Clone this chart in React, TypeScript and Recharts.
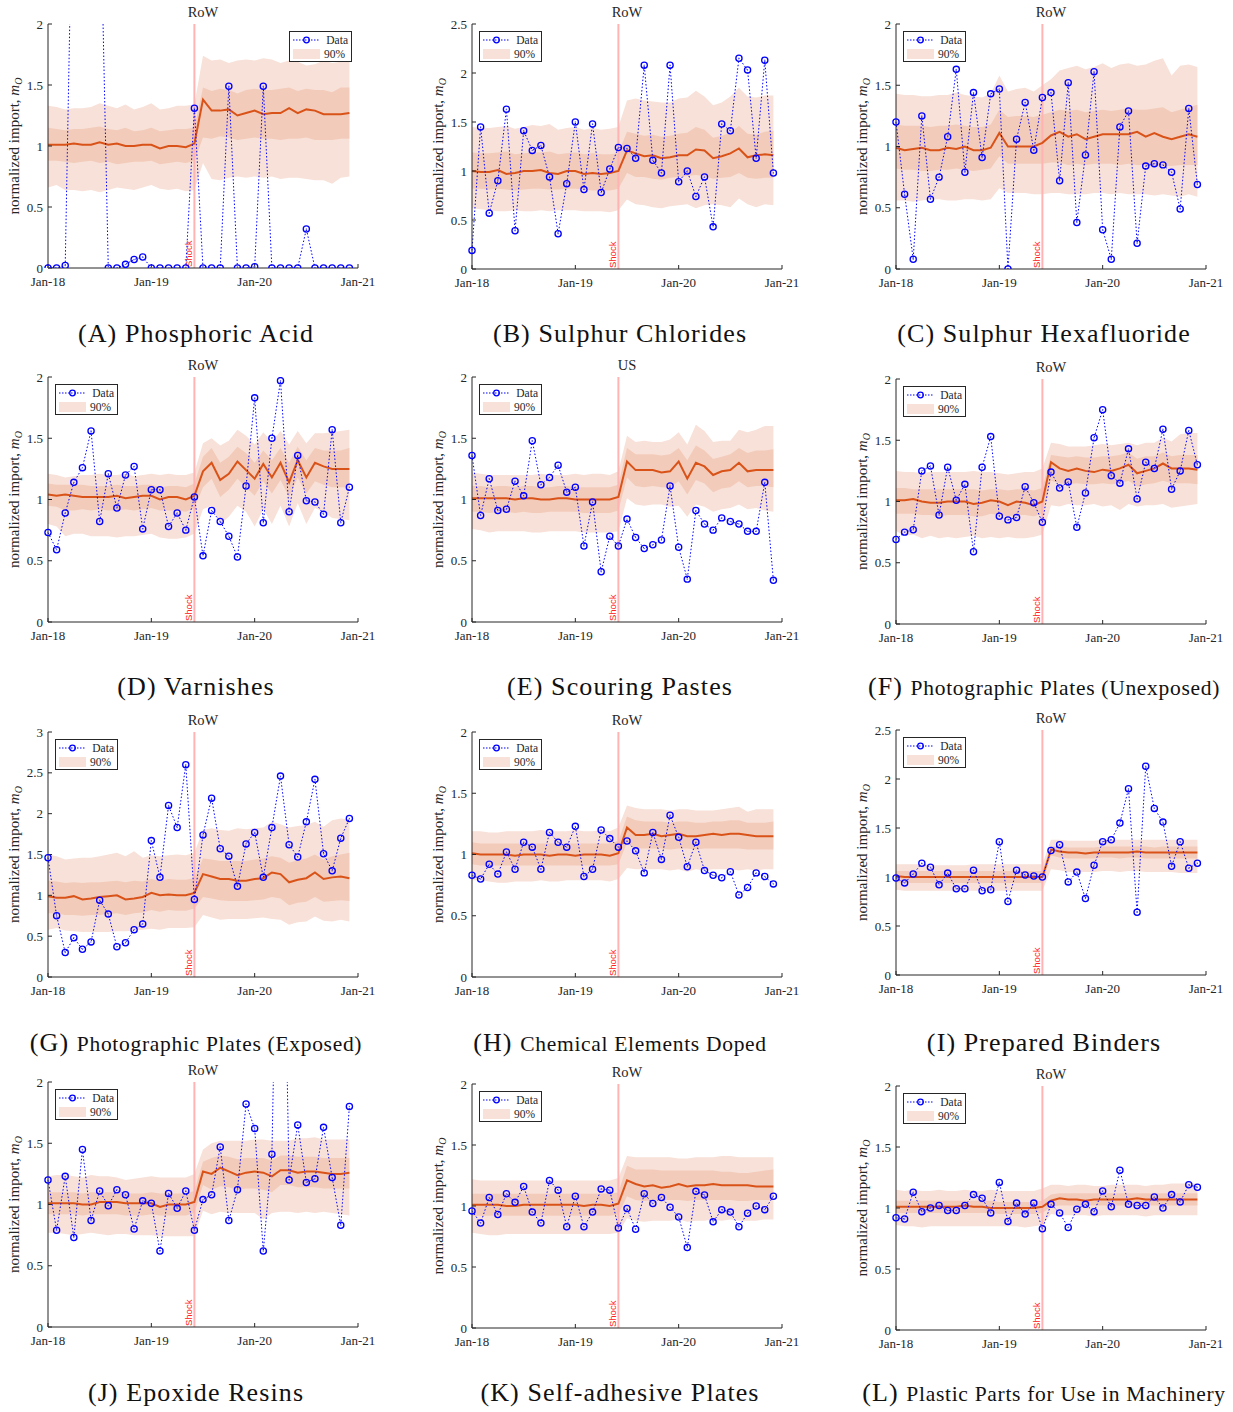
import React from 'react'
import { ComposedChart, Area, Line, XAxis, YAxis, ReferenceLine, Legend } from 'recharts'

const SERIF = '"Liberation Serif", "DejaVu Serif", serif'
const SANS = '"Liberation Sans", Arial, sans-serif'
const INK = '#262626'
const OUTER = '#F8E1D8'
const INNER = '#F2CBBA'
const MED = '#D95319'
const BLUE = '#0000FF'

// month index 0 = Jan-18 ... 35 = Dec-20
const months = Array.from({ length: 36 }, (_, i) => i)
const xTicks = [0, 12, 24, 36]
const xTickLabels = ['Jan-18', 'Jan-19', 'Jan-20', 'Jan-21']
const SHOCK = 17
const ticks2 = [0, 0.5, 1, 1.5, 2]
const ticks25 = [0, 0.5, 1, 1.5, 2, 2.5]
const ticks3 = [0, 0.5, 1, 1.5, 2, 2.5, 3]

// (A) Phosphoric Acid
const aVal = [0, 0, 0.02, 3.8, 4.5, 3.5, 3.3, 0, 0, 0.03, 0.07, 0.09, 0, 0, 0, 0, 0, 1.31, 0, 0, 0, 1.49, 0, 0, 0.01, 1.49, 0, 0, 0, 0, 0.32, 0, 0, 0, 0, 0]
const aMed = [1.01, 1.01, 1.01, 1.02, 1.01, 1.01, 1.03, 1.01, 1.02, 1.0, 1.0, 1.01, 1.01, 0.98, 1.0, 1.0, 0.99, 1.02, 1.38, 1.29, 1.29, 1.3, 1.25, 1.27, 1.29, 1.26, 1.27, 1.27, 1.31, 1.27, 1.3, 1.29, 1.26, 1.26, 1.26, 1.27]
const aHi90 = [1.33, 1.32, 1.3, 1.31, 1.31, 1.32, 1.35, 1.33, 1.31, 1.34, 1.3, 1.32, 1.35, 1.3, 1.31, 1.33, 1.33, 1.34, 1.74, 1.7, 1.71, 1.68, 1.7, 1.71, 1.7, 1.72, 1.71, 1.68, 1.7, 1.69, 1.66, 1.67, 1.7, 1.68, 1.69, 1.7]
const aLo90 = [0.66, 0.68, 0.64, 0.64, 0.63, 0.64, 0.62, 0.64, 0.66, 0.65, 0.64, 0.66, 0.68, 0.65, 0.64, 0.65, 0.63, 0.64, 0.86, 0.73, 0.72, 0.74, 0.75, 0.74, 0.75, 0.74, 0.75, 0.73, 0.74, 0.74, 0.73, 0.72, 0.72, 0.69, 0.74, 0.75]
const aHi50 = [1.15, 1.14, 1.13, 1.14, 1.14, 1.15, 1.16, 1.14, 1.13, 1.15, 1.12, 1.13, 1.15, 1.12, 1.13, 1.14, 1.14, 1.15, 1.48, 1.45, 1.47, 1.46, 1.43, 1.46, 1.47, 1.46, 1.46, 1.47, 1.48, 1.45, 1.47, 1.46, 1.46, 1.44, 1.48, 1.48]
const aLo50 = [0.88, 0.88, 0.87, 0.86, 0.87, 0.88, 0.86, 0.87, 0.85, 0.86, 0.87, 0.87, 0.88, 0.85, 0.86, 0.87, 0.86, 0.88, 1.07, 1.06, 1.08, 1.07, 1.05, 1.06, 1.07, 1.06, 1.06, 1.05, 1.06, 1.06, 1.07, 1.05, 1.05, 1.05, 1.06, 1.06]

// (B) Sulphur Chlorides
const bVal = [0.19, 1.45, 0.57, 0.9, 1.63, 0.39, 1.41, 1.21, 1.26, 0.94, 0.36, 0.87, 1.5, 0.81, 1.48, 0.78, 1.02, 1.24, 1.23, 1.13, 2.08, 1.11, 0.98, 2.08, 0.89, 1.0, 0.74, 0.94, 0.43, 1.48, 1.41, 2.15, 2.03, 1.13, 2.13, 0.98]
const bMed = [1.0, 0.99, 0.99, 1.01, 0.97, 0.98, 1.0, 1.0, 1.01, 0.98, 0.97, 1.0, 1.0, 0.97, 0.98, 0.97, 0.98, 1.0, 1.21, 1.18, 1.15, 1.16, 1.13, 1.14, 1.16, 1.16, 1.22, 1.21, 1.13, 1.15, 1.18, 1.23, 1.14, 1.16, 1.17, 1.16]
const bHi90 = [1.45, 1.44, 1.44, 1.45, 1.46, 1.43, 1.45, 1.47, 1.46, 1.48, 1.42, 1.44, 1.45, 1.42, 1.44, 1.42, 1.43, 1.45, 1.72, 1.74, 1.72, 1.71, 1.7, 1.7, 1.74, 1.75, 1.82, 1.76, 1.67, 1.7, 1.76, 1.85, 1.76, 1.75, 1.77, 1.77]
const bLo90 = [0.62, 0.61, 0.6, 0.59, 0.59, 0.6, 0.59, 0.59, 0.6, 0.59, 0.6, 0.6, 0.6, 0.59, 0.59, 0.59, 0.58, 0.6, 0.71, 0.66, 0.65, 0.63, 0.62, 0.64, 0.65, 0.66, 0.62, 0.65, 0.66, 0.65, 0.63, 0.72, 0.66, 0.63, 0.66, 0.65]
const bHi50 = [1.19, 1.18, 1.18, 1.19, 1.2, 1.17, 1.18, 1.19, 1.19, 1.2, 1.17, 1.18, 1.19, 1.17, 1.18, 1.17, 1.17, 1.18, 1.4, 1.38, 1.36, 1.37, 1.35, 1.36, 1.38, 1.39, 1.45, 1.42, 1.34, 1.36, 1.39, 1.46, 1.38, 1.37, 1.4, 1.41]
const bLo50 = [0.82, 0.82, 0.81, 0.82, 0.81, 0.8, 0.81, 0.82, 0.82, 0.81, 0.81, 0.82, 0.82, 0.81, 0.8, 0.8, 0.8, 0.82, 0.98, 0.94, 0.94, 0.92, 0.91, 0.93, 0.94, 0.95, 0.96, 0.95, 0.92, 0.93, 0.94, 0.98, 0.93, 0.92, 0.93, 0.93]

// (C) Sulphur Hexafluoride
const cVal = [1.2, 0.61, 0.08, 1.25, 0.57, 0.75, 1.08, 1.63, 0.79, 1.44, 0.91, 1.43, 1.47, 0.0, 1.06, 1.36, 0.97, 1.4, 1.44, 0.72, 1.52, 0.38, 0.93, 1.61, 0.32, 0.08, 1.16, 1.29, 0.21, 0.84, 0.86, 0.85, 0.79, 0.49, 1.31, 0.69]
const cMed = [0.99, 0.97, 0.98, 0.99, 0.97, 0.97, 0.99, 0.98, 1.0, 0.97, 0.97, 0.99, 1.11, 1.0, 1.0, 1.0, 1.0, 1.03, 1.09, 1.12, 1.08, 1.1, 1.06, 1.08, 1.1, 1.1, 1.1, 1.1, 1.12, 1.08, 1.11, 1.08, 1.06, 1.08, 1.1, 1.08]
const cHi90 = [1.43, 1.42, 1.42, 1.41, 1.41, 1.42, 1.42, 1.44, 1.42, 1.41, 1.4, 1.43, 1.58, 1.45, 1.47, 1.48, 1.45, 1.5, 1.55, 1.62, 1.64, 1.66, 1.63, 1.65, 1.68, 1.64, 1.67, 1.68, 1.66, 1.67, 1.7, 1.72, 1.58, 1.66, 1.67, 1.65]
const cLo90 = [0.56, 0.56, 0.55, 0.56, 0.57, 0.57, 0.56, 0.56, 0.57, 0.57, 0.56, 0.57, 0.66, 0.62, 0.62, 0.62, 0.61, 0.61, 0.62, 0.62, 0.61, 0.61, 0.61, 0.62, 0.62, 0.61, 0.62, 0.61, 0.61, 0.61, 0.6, 0.61, 0.6, 0.59, 0.61, 0.59]
const cHi50 = [1.18, 1.17, 1.17, 1.17, 1.16, 1.17, 1.17, 1.18, 1.17, 1.16, 1.16, 1.18, 1.3, 1.24, 1.25, 1.25, 1.24, 1.26, 1.28, 1.3, 1.29, 1.3, 1.28, 1.29, 1.3, 1.29, 1.3, 1.31, 1.3, 1.3, 1.31, 1.32, 1.28, 1.3, 1.32, 1.34]
const cLo50 = [0.82, 0.81, 0.81, 0.8, 0.8, 0.81, 0.81, 0.82, 0.81, 0.8, 0.81, 0.82, 0.92, 0.86, 0.86, 0.86, 0.86, 0.86, 0.87, 0.87, 0.85, 0.86, 0.85, 0.86, 0.86, 0.86, 0.85, 0.86, 0.85, 0.85, 0.84, 0.84, 0.84, 0.85, 0.85, 0.85]

// (D) Varnishes
const dVal = [0.73, 0.59, 0.89, 1.14, 1.26, 1.56, 0.82, 1.21, 0.93, 1.2, 1.27, 0.76, 1.08, 1.08, 0.78, 0.89, 0.75, 1.02, 0.54, 0.91, 0.82, 0.7, 0.53, 1.11, 1.83, 0.81, 1.5, 1.97, 0.9, 1.36, 0.99, 0.98, 0.88, 1.57, 0.81, 1.1]
const dMed = [1.04, 1.03, 1.04, 1.03, 1.02, 1.02, 1.02, 1.02, 1.03, 1.01, 1.02, 1.03, 1.03, 1.0, 1.02, 1.02, 1.0, 1.03, 1.23, 1.3, 1.16, 1.21, 1.31, 1.24, 1.17, 1.29, 1.18, 1.3, 1.14, 1.32, 1.18, 1.3, 1.27, 1.25, 1.25, 1.25]
const dHi90 = [1.21, 1.2, 1.18, 1.19, 1.2, 1.2, 1.21, 1.2, 1.2, 1.21, 1.19, 1.2, 1.21, 1.2, 1.21, 1.2, 1.2, 1.22, 1.46, 1.5, 1.44, 1.48, 1.57, 1.52, 1.45, 1.55, 1.47, 1.56, 1.45, 1.56, 1.46, 1.54, 1.54, 1.55, 1.56, 1.57]
const dLo90 = [0.8, 0.78, 0.7, 0.72, 0.72, 0.7, 0.7, 0.7, 0.69, 0.7, 0.7, 0.71, 0.72, 0.69, 0.68, 0.68, 0.69, 0.72, 0.92, 0.95, 0.8, 0.86, 0.95, 0.9, 0.78, 0.92, 0.8, 0.95, 0.78, 0.97, 0.8, 0.93, 0.9, 0.85, 0.84, 0.83]
const dHi50 = [1.13, 1.12, 1.12, 1.12, 1.12, 1.11, 1.11, 1.11, 1.12, 1.11, 1.11, 1.12, 1.12, 1.1, 1.11, 1.11, 1.1, 1.13, 1.35, 1.42, 1.3, 1.35, 1.43, 1.38, 1.3, 1.4, 1.32, 1.42, 1.3, 1.43, 1.32, 1.42, 1.4, 1.4, 1.4, 1.42]
const dLo50 = [0.95, 0.94, 0.91, 0.91, 0.92, 0.91, 0.92, 0.91, 0.91, 0.92, 0.91, 0.92, 0.93, 0.91, 0.91, 0.91, 0.9, 0.93, 1.1, 1.17, 1.02, 1.08, 1.17, 1.1, 1.03, 1.15, 1.05, 1.16, 1.02, 1.18, 1.05, 1.15, 1.12, 1.1, 1.1, 1.1]

// (E) Scouring Pastes
const eVal = [1.36, 0.87, 1.17, 0.91, 0.92, 1.15, 1.03, 1.48, 1.12, 1.18, 1.28, 1.06, 1.1, 0.62, 0.98, 0.41, 0.7, 0.62, 0.84, 0.69, 0.6, 0.63, 0.67, 1.11, 0.61, 0.35, 0.91, 0.8, 0.75, 0.85, 0.82, 0.8, 0.74, 0.74, 1.14, 0.34]
const eMed = [1.01, 1.01, 1.01, 1.01, 1.01, 1.0, 1.01, 1.01, 1.0, 1.0, 1.01, 1.01, 1.0, 1.0, 1.0, 1.0, 1.0, 1.02, 1.31, 1.24, 1.24, 1.24, 1.22, 1.23, 1.31, 1.17, 1.3, 1.27, 1.2, 1.23, 1.24, 1.3, 1.23, 1.24, 1.24, 1.24]
const eHi90 = [1.22, 1.21, 1.2, 1.2, 1.2, 1.2, 1.2, 1.2, 1.21, 1.2, 1.2, 1.2, 1.21, 1.2, 1.21, 1.21, 1.2, 1.23, 1.52, 1.47, 1.48, 1.47, 1.47, 1.49, 1.55, 1.45, 1.61, 1.56, 1.47, 1.48, 1.48, 1.57, 1.55, 1.57, 1.6, 1.6]
const eLo90 = [0.76, 0.75, 0.73, 0.74, 0.74, 0.74, 0.74, 0.73, 0.73, 0.74, 0.74, 0.74, 0.74, 0.73, 0.73, 0.73, 0.73, 0.74, 1.01, 0.96, 0.95, 0.96, 0.96, 0.94, 0.95, 0.86, 0.96, 0.94, 0.9, 0.92, 0.93, 0.96, 0.92, 0.93, 0.91, 0.9]
const eHi50 = [1.11, 1.11, 1.1, 1.11, 1.11, 1.1, 1.11, 1.11, 1.1, 1.1, 1.11, 1.11, 1.1, 1.1, 1.1, 1.1, 1.1, 1.12, 1.42, 1.37, 1.37, 1.37, 1.36, 1.37, 1.42, 1.32, 1.44, 1.4, 1.33, 1.35, 1.37, 1.42, 1.38, 1.4, 1.4, 1.41]
const eLo50 = [0.9, 0.9, 0.89, 0.9, 0.9, 0.89, 0.9, 0.89, 0.89, 0.9, 0.9, 0.9, 0.9, 0.89, 0.89, 0.89, 0.89, 0.91, 1.18, 1.11, 1.1, 1.11, 1.1, 1.1, 1.15, 1.04, 1.16, 1.13, 1.06, 1.09, 1.1, 1.15, 1.1, 1.11, 1.11, 1.1]

// (F) Photographic Plates (Unexposed)
const fVal = [0.69, 0.75, 0.77, 1.25, 1.29, 0.89, 1.28, 1.01, 1.14, 0.59, 1.28, 1.53, 0.88, 0.85, 0.87, 1.12, 0.99, 0.83, 1.24, 1.11, 1.16, 0.79, 1.07, 1.52, 1.75, 1.21, 1.15, 1.43, 1.02, 1.32, 1.27, 1.59, 1.1, 1.25, 1.58, 1.3]
const fMed = [1.01, 1.01, 1.02, 1.0, 0.99, 0.99, 1.0, 1.0, 1.0, 0.98, 0.99, 1.01, 1.0, 0.97, 1.0, 0.99, 0.97, 1.0, 1.32, 1.27, 1.25, 1.27, 1.25, 1.24, 1.26, 1.25, 1.27, 1.3, 1.23, 1.25, 1.27, 1.31, 1.27, 1.27, 1.27, 1.26]
const fHi90 = [1.25, 1.24, 1.24, 1.23, 1.24, 1.24, 1.24, 1.24, 1.24, 1.25, 1.24, 1.24, 1.23, 1.22, 1.23, 1.24, 1.24, 1.27, 1.48, 1.47, 1.45, 1.45, 1.45, 1.46, 1.47, 1.46, 1.47, 1.48, 1.46, 1.48, 1.48, 1.52, 1.49, 1.55, 1.56, 1.56]
const fLo90 = [0.76, 0.72, 0.73, 0.7, 0.72, 0.7, 0.71, 0.7, 0.71, 0.72, 0.7, 0.71, 0.7, 0.71, 0.7, 0.7, 0.71, 0.73, 0.97, 0.96, 0.98, 0.97, 0.97, 0.98, 0.96, 0.97, 0.93, 0.98, 0.96, 0.97, 0.97, 0.98, 0.95, 0.96, 0.97, 0.98]
const fHi50 = [1.11, 1.11, 1.1, 1.1, 1.1, 1.1, 1.1, 1.1, 1.1, 1.1, 1.09, 1.1, 1.1, 1.09, 1.1, 1.1, 1.09, 1.11, 1.38, 1.37, 1.36, 1.37, 1.36, 1.36, 1.37, 1.37, 1.38, 1.4, 1.35, 1.37, 1.37, 1.4, 1.37, 1.38, 1.38, 1.38]
const fLo50 = [0.9, 0.9, 0.9, 0.89, 0.89, 0.88, 0.89, 0.89, 0.89, 0.88, 0.88, 0.9, 0.89, 0.88, 0.89, 0.89, 0.88, 0.9, 1.17, 1.15, 1.14, 1.15, 1.14, 1.14, 1.15, 1.14, 1.15, 1.17, 1.12, 1.14, 1.15, 1.17, 1.15, 1.15, 1.15, 1.14]

// (G) Photographic Plates (Exposed)
const gVal = [1.46, 0.75, 0.3, 0.48, 0.34, 0.43, 0.94, 0.77, 0.37, 0.42, 0.58, 0.65, 1.67, 1.22, 2.1, 1.83, 2.6, 0.95, 1.74, 2.19, 1.57, 1.48, 1.11, 1.63, 1.77, 1.22, 1.83, 2.46, 1.62, 1.47, 1.9, 2.42, 1.51, 1.3, 1.7, 1.94]
const gMed = [0.99, 0.97, 0.97, 0.99, 0.95, 0.96, 0.98, 0.99, 1.0, 0.95, 0.96, 0.98, 1.03, 1.0, 1.01, 1.0, 1.0, 1.03, 1.26, 1.23, 1.2, 1.2, 1.18, 1.18, 1.2, 1.21, 1.28, 1.26, 1.16, 1.19, 1.21, 1.28, 1.2, 1.22, 1.23, 1.21]
const gHi90 = [1.5, 1.48, 1.44, 1.45, 1.46, 1.46, 1.48, 1.5, 1.52, 1.48, 1.54, 1.46, 1.49, 1.48, 1.49, 1.5, 1.49, 1.52, 1.8, 1.82, 1.8, 1.79, 1.82, 1.81, 1.82, 1.83, 1.9, 1.87, 1.83, 1.85, 1.86, 1.9, 1.84, 1.92, 1.94, 1.93]
const gLo90 = [0.58, 0.6, 0.57, 0.56, 0.55, 0.55, 0.55, 0.55, 0.56, 0.56, 0.57, 0.58, 0.59, 0.58, 0.6, 0.6, 0.6, 0.61, 0.76, 0.73, 0.7, 0.71, 0.71, 0.71, 0.72, 0.73, 0.71, 0.7, 0.64, 0.67, 0.68, 0.74, 0.69, 0.68, 0.7, 0.68]
const gHi50 = [1.18, 1.17, 1.15, 1.16, 1.15, 1.16, 1.16, 1.17, 1.18, 1.16, 1.18, 1.17, 1.2, 1.18, 1.2, 1.19, 1.19, 1.21, 1.45, 1.44, 1.42, 1.42, 1.42, 1.42, 1.44, 1.45, 1.48, 1.46, 1.4, 1.43, 1.45, 1.5, 1.44, 1.48, 1.5, 1.52]
const gLo50 = [0.78, 0.78, 0.76, 0.76, 0.75, 0.76, 0.76, 0.77, 0.78, 0.76, 0.78, 0.79, 0.82, 0.8, 0.82, 0.81, 0.81, 0.84, 0.98, 0.96, 0.94, 0.93, 0.93, 0.93, 0.94, 0.95, 0.98, 0.96, 0.88, 0.91, 0.92, 0.98, 0.92, 0.93, 0.94, 0.93]

// (H) Chemical Elements Doped
const hVal = [0.83, 0.8, 0.92, 0.84, 1.02, 0.88, 1.1, 1.06, 0.88, 1.18, 1.1, 1.06, 1.23, 0.82, 0.88, 1.2, 1.13, 1.06, 1.11, 1.03, 0.85, 1.18, 0.96, 1.32, 1.14, 0.9, 1.1, 0.87, 0.83, 0.81, 0.86, 0.67, 0.73, 0.85, 0.82, 0.76]
const hMed = [1.01, 1.0, 1.0, 1.0, 1.0, 0.99, 1.0, 1.0, 1.0, 0.99, 1.0, 1.0, 0.99, 1.0, 1.0, 1.0, 0.99, 1.01, 1.22, 1.16, 1.16, 1.17, 1.15, 1.16, 1.17, 1.15, 1.15, 1.16, 1.17, 1.16, 1.17, 1.17, 1.16, 1.15, 1.15, 1.15]
const hHi90 = [1.19, 1.19, 1.18, 1.18, 1.19, 1.19, 1.19, 1.19, 1.2, 1.19, 1.19, 1.19, 1.2, 1.19, 1.19, 1.2, 1.19, 1.22, 1.4, 1.38, 1.37, 1.37, 1.37, 1.36, 1.37, 1.37, 1.36, 1.36, 1.36, 1.37, 1.38, 1.39, 1.35, 1.37, 1.37, 1.37]
const hLo90 = [0.79, 0.79, 0.78, 0.77, 0.77, 0.78, 0.78, 0.78, 0.79, 0.78, 0.78, 0.79, 0.79, 0.79, 0.79, 0.79, 0.78, 0.8, 0.89, 0.88, 0.88, 0.88, 0.88, 0.87, 0.88, 0.86, 0.88, 0.87, 0.88, 0.88, 0.88, 0.87, 0.88, 0.87, 0.88, 0.88]
const hHi50 = [1.1, 1.09, 1.09, 1.09, 1.09, 1.09, 1.09, 1.09, 1.09, 1.09, 1.09, 1.09, 1.09, 1.09, 1.09, 1.09, 1.09, 1.11, 1.31, 1.28, 1.27, 1.27, 1.27, 1.26, 1.27, 1.27, 1.26, 1.26, 1.27, 1.27, 1.28, 1.28, 1.26, 1.26, 1.26, 1.27]
const hLo50 = [0.92, 0.91, 0.91, 0.91, 0.91, 0.91, 0.91, 0.91, 0.91, 0.91, 0.91, 0.91, 0.91, 0.91, 0.91, 0.91, 0.91, 0.92, 1.1, 1.05, 1.05, 1.05, 1.05, 1.04, 1.05, 1.05, 1.04, 1.05, 1.05, 1.05, 1.05, 1.05, 1.04, 1.04, 1.04, 1.04]

// (I) Prepared Binders
const iVal = [0.99, 0.94, 1.03, 1.14, 1.1, 0.92, 1.04, 0.88, 0.88, 1.07, 0.86, 0.87, 1.36, 0.75, 1.07, 1.02, 1.01, 1.0, 1.27, 1.33, 0.95, 1.05, 0.78, 1.12, 1.36, 1.38, 1.55, 1.9, 0.64, 2.13, 1.7, 1.56, 1.11, 1.36, 1.09, 1.14]
const iMed = [1.01, 1.0, 1.0, 1.0, 1.0, 1.0, 1.0, 1.0, 1.0, 1.0, 1.0, 1.0, 1.0, 1.0, 1.0, 1.0, 1.0, 1.0, 1.28, 1.26, 1.25, 1.25, 1.24, 1.25, 1.25, 1.25, 1.25, 1.25, 1.26, 1.25, 1.25, 1.25, 1.25, 1.25, 1.25, 1.25]
const iHi90 = [1.13, 1.13, 1.13, 1.13, 1.12, 1.12, 1.12, 1.12, 1.12, 1.13, 1.13, 1.13, 1.13, 1.13, 1.13, 1.13, 1.13, 1.13, 1.38, 1.38, 1.37, 1.37, 1.37, 1.37, 1.38, 1.38, 1.38, 1.38, 1.38, 1.38, 1.38, 1.38, 1.38, 1.38, 1.38, 1.38]
const iLo90 = [0.87, 0.86, 0.86, 0.86, 0.86, 0.86, 0.86, 0.86, 0.86, 0.86, 0.86, 0.86, 0.86, 0.86, 0.86, 0.86, 0.86, 0.86, 1.08, 1.07, 1.05, 1.05, 1.05, 1.05, 1.06, 1.06, 1.05, 1.06, 1.06, 1.05, 1.05, 1.05, 1.05, 1.04, 1.04, 1.04]
const iHi50 = [1.06, 1.06, 1.06, 1.06, 1.06, 1.06, 1.06, 1.06, 1.06, 1.06, 1.06, 1.06, 1.06, 1.06, 1.06, 1.06, 1.06, 1.06, 1.31, 1.31, 1.3, 1.3, 1.3, 1.3, 1.31, 1.31, 1.31, 1.31, 1.31, 1.31, 1.3, 1.31, 1.31, 1.31, 1.31, 1.31]
const iLo50 = [0.95, 0.94, 0.94, 0.94, 0.94, 0.94, 0.94, 0.94, 0.94, 0.94, 0.94, 0.94, 0.94, 0.94, 0.94, 0.94, 0.94, 0.94, 1.22, 1.2, 1.19, 1.19, 1.19, 1.19, 1.2, 1.2, 1.19, 1.2, 1.2, 1.19, 1.19, 1.19, 1.19, 1.19, 1.19, 1.19]

// (J) Epoxide Resins
const jVal = [1.2, 0.79, 1.23, 0.73, 1.45, 0.87, 1.11, 0.99, 1.12, 1.08, 0.8, 1.03, 1.01, 0.62, 1.09, 0.97, 1.11, 0.79, 1.04, 1.08, 1.47, 0.87, 1.12, 1.82, 1.62, 0.62, 1.41, 5.0, 1.2, 1.65, 1.18, 1.21, 1.63, 1.22, 0.83, 1.8]
const jMed = [1.01, 1.01, 1.01, 1.01, 1.0, 1.0, 1.02, 1.02, 1.02, 1.01, 1.01, 1.01, 1.01, 0.98, 1.0, 1.0, 1.0, 1.02, 1.27, 1.25, 1.3, 1.27, 1.24, 1.26, 1.27, 1.26, 1.23, 1.28, 1.28, 1.26, 1.27, 1.27, 1.26, 1.25, 1.25, 1.26]
const jHi90 = [1.23, 1.24, 1.24, 1.23, 1.22, 1.24, 1.23, 1.23, 1.22, 1.2, 1.21, 1.22, 1.23, 1.22, 1.22, 1.22, 1.22, 1.25, 1.45, 1.5, 1.52, 1.52, 1.52, 1.52, 1.53, 1.53, 1.52, 1.52, 1.52, 1.54, 1.54, 1.55, 1.53, 1.53, 1.53, 1.53]
const jLo90 = [0.77, 0.77, 0.76, 0.75, 0.76, 0.77, 0.76, 0.75, 0.76, 0.76, 0.75, 0.75, 0.75, 0.74, 0.74, 0.74, 0.74, 0.74, 0.95, 0.92, 0.94, 0.93, 0.93, 0.93, 0.93, 0.88, 0.93, 0.94, 0.94, 0.93, 0.94, 0.93, 0.94, 0.93, 0.92, 0.91]
const jHi50 = [1.1, 1.1, 1.1, 1.1, 1.09, 1.1, 1.1, 1.1, 1.1, 1.09, 1.09, 1.09, 1.1, 1.09, 1.09, 1.09, 1.09, 1.11, 1.35, 1.38, 1.4, 1.39, 1.37, 1.38, 1.38, 1.38, 1.36, 1.4, 1.4, 1.39, 1.39, 1.39, 1.38, 1.38, 1.38, 1.38]
const jLo50 = [0.92, 0.92, 0.92, 0.92, 0.91, 0.92, 0.92, 0.92, 0.92, 0.91, 0.91, 0.91, 0.92, 0.91, 0.91, 0.91, 0.91, 0.93, 1.16, 1.12, 1.15, 1.14, 1.12, 1.13, 1.13, 1.12, 1.1, 1.16, 1.16, 1.14, 1.14, 1.14, 1.13, 1.13, 1.13, 1.13]

// (K) Self-adhesive Plates
const kVal = [0.96, 0.86, 1.07, 0.93, 1.1, 1.03, 1.16, 0.95, 0.86, 1.21, 1.13, 0.83, 1.08, 0.83, 0.95, 1.14, 1.13, 0.82, 0.98, 0.81, 1.1, 1.02, 1.07, 0.99, 0.91, 0.66, 1.12, 1.09, 0.87, 0.97, 0.95, 0.83, 0.94, 1.0, 0.97, 1.08]
const kMed = [1.01, 1.01, 1.01, 1.01, 1.0, 1.0, 1.01, 1.01, 1.01, 1.01, 1.01, 1.01, 1.01, 1.0, 1.01, 1.01, 1.0, 1.02, 1.21, 1.18, 1.16, 1.17, 1.15, 1.16, 1.18, 1.16, 1.17, 1.17, 1.18, 1.17, 1.17, 1.17, 1.17, 1.16, 1.16, 1.16]
const kHi90 = [1.22, 1.21, 1.21, 1.21, 1.21, 1.21, 1.21, 1.21, 1.21, 1.21, 1.21, 1.21, 1.21, 1.21, 1.21, 1.21, 1.21, 1.23, 1.41, 1.4, 1.4, 1.4, 1.4, 1.4, 1.39, 1.39, 1.4, 1.4, 1.4, 1.41, 1.41, 1.4, 1.4, 1.4, 1.4, 1.4]
const kLo90 = [0.78, 0.77, 0.76, 0.76, 0.77, 0.77, 0.77, 0.77, 0.77, 0.77, 0.77, 0.77, 0.77, 0.77, 0.77, 0.77, 0.77, 0.78, 0.9, 0.88, 0.87, 0.88, 0.88, 0.88, 0.89, 0.87, 0.88, 0.88, 0.89, 0.88, 0.89, 0.88, 0.88, 0.88, 0.89, 0.89]
const kHi50 = [1.1, 1.1, 1.1, 1.1, 1.1, 1.1, 1.1, 1.1, 1.1, 1.1, 1.1, 1.1, 1.1, 1.1, 1.1, 1.1, 1.1, 1.11, 1.33, 1.3, 1.3, 1.3, 1.29, 1.29, 1.29, 1.29, 1.29, 1.29, 1.29, 1.28, 1.28, 1.27, 1.27, 1.28, 1.29, 1.3]
const kLo50 = [0.92, 0.92, 0.92, 0.92, 0.92, 0.92, 0.92, 0.92, 0.92, 0.92, 0.92, 0.92, 0.92, 0.92, 0.92, 0.92, 0.92, 0.93, 1.08, 1.05, 1.04, 1.05, 1.05, 1.05, 1.05, 1.04, 1.05, 1.05, 1.05, 1.05, 1.05, 1.04, 1.04, 1.05, 1.05, 1.05]

// (L) Plastic Parts for Use in Machinery
const lVal = [0.92, 0.91, 1.13, 0.97, 1.0, 1.02, 0.98, 0.98, 1.02, 1.11, 1.08, 0.96, 1.21, 0.89, 1.04, 0.95, 1.04, 0.83, 1.03, 0.96, 0.84, 0.99, 1.03, 0.97, 1.14, 1.01, 1.31, 1.03, 1.02, 1.02, 1.09, 1.0, 1.11, 1.05, 1.19, 1.17]
const lMed = [1.01, 1.01, 1.01, 1.01, 1.01, 1.01, 1.01, 1.01, 1.02, 1.01, 1.01, 1.0, 1.0, 1.0, 1.0, 1.0, 1.0, 1.01, 1.06, 1.08, 1.07, 1.07, 1.06, 1.07, 1.07, 1.07, 1.07, 1.07, 1.08, 1.07, 1.07, 1.07, 1.07, 1.07, 1.07, 1.07]
const lHi90 = [1.15, 1.14, 1.15, 1.14, 1.14, 1.15, 1.14, 1.14, 1.15, 1.14, 1.14, 1.15, 1.14, 1.14, 1.14, 1.14, 1.14, 1.16, 1.19, 1.19, 1.18, 1.19, 1.19, 1.18, 1.18, 1.19, 1.19, 1.19, 1.19, 1.18, 1.19, 1.19, 1.2, 1.2, 1.2, 1.2]
const lLo90 = [0.86, 0.85, 0.85, 0.84, 0.85, 0.85, 0.85, 0.85, 0.85, 0.85, 0.85, 0.85, 0.85, 0.85, 0.85, 0.84, 0.85, 0.86, 0.95, 0.94, 0.94, 0.94, 0.94, 0.93, 0.94, 0.94, 0.94, 0.94, 0.94, 0.93, 0.94, 0.94, 0.94, 0.94, 0.94, 0.94]
const lHi50 = [1.06, 1.06, 1.06, 1.06, 1.06, 1.06, 1.06, 1.06, 1.06, 1.06, 1.06, 1.06, 1.05, 1.05, 1.05, 1.05, 1.05, 1.06, 1.11, 1.12, 1.12, 1.12, 1.12, 1.12, 1.12, 1.12, 1.12, 1.12, 1.12, 1.12, 1.12, 1.12, 1.12, 1.12, 1.12, 1.12]
const lLo50 = [0.96, 0.96, 0.96, 0.96, 0.96, 0.96, 0.96, 0.96, 0.96, 0.96, 0.96, 0.96, 0.95, 0.95, 0.95, 0.95, 0.95, 0.96, 1.01, 1.02, 1.02, 1.02, 1.02, 1.02, 1.02, 1.02, 1.02, 1.02, 1.03, 1.02, 1.02, 1.02, 1.02, 1.02, 1.02, 1.02]

const colLeft = [48, 472, 896]
const capY = [334, 687, 1043, 1393]
const PLOT_W = 310
const Y_AXIS_W = 48
const MT = 12
const MR = 26
const X_AXIS_H = 30

const panels = [
  { id: 'A', name: 'Phosphoric Acid', small: false, title: 'RoW', val: aVal, med: aMed, lo90: aLo90, hi90: aHi90, lo50: aLo50, hi50: aHi50, yTicks: ticks2, top: 24, bottom: 268, legendRight: true },
  { id: 'B', name: 'Sulphur Chlorides', small: false, title: 'RoW', val: bVal, med: bMed, lo90: bLo90, hi90: bHi90, lo50: bLo50, hi50: bHi50, yTicks: ticks25, top: 24, bottom: 269 },
  { id: 'C', name: 'Sulphur Hexafluoride', small: false, title: 'RoW', val: cVal, med: cMed, lo90: cLo90, hi90: cHi90, lo50: cLo50, hi50: cHi50, yTicks: ticks2, top: 24, bottom: 269 },
  { id: 'D', name: 'Varnishes', small: false, title: 'RoW', val: dVal, med: dMed, lo90: dLo90, hi90: dHi90, lo50: dLo50, hi50: dHi50, yTicks: ticks2, top: 377, bottom: 622 },
  { id: 'E', name: 'Scouring Pastes', small: false, title: 'US', val: eVal, med: eMed, lo90: eLo90, hi90: eHi90, lo50: eLo50, hi50: eHi50, yTicks: ticks2, top: 377, bottom: 622 },
  { id: 'F', name: 'Photographic Plates (Unexposed)', small: true, title: 'RoW', val: fVal, med: fMed, lo90: fLo90, hi90: fHi90, lo50: fLo50, hi50: fHi50, yTicks: ticks2, top: 379, bottom: 624 },
  { id: 'G', name: 'Photographic Plates (Exposed)', small: true, title: 'RoW', val: gVal, med: gMed, lo90: gLo90, hi90: gHi90, lo50: gLo50, hi50: gHi50, yTicks: ticks3, top: 732, bottom: 977 },
  { id: 'H', name: 'Chemical Elements Doped', small: true, title: 'RoW', val: hVal, med: hMed, lo90: hLo90, hi90: hHi90, lo50: hLo50, hi50: hHi50, yTicks: ticks2, top: 732, bottom: 977 },
  { id: 'I', name: 'Prepared Binders', small: false, title: 'RoW', val: iVal, med: iMed, lo90: iLo90, hi90: iHi90, lo50: iLo50, hi50: iHi50, yTicks: ticks25, top: 730, bottom: 975 },
  { id: 'J', name: 'Epoxide Resins', small: false, title: 'RoW', val: jVal, med: jMed, lo90: jLo90, hi90: jHi90, lo50: jLo50, hi50: jHi50, yTicks: ticks2, top: 1082, bottom: 1327 },
  { id: 'K', name: 'Self-adhesive Plates', small: false, title: 'RoW', val: kVal, med: kMed, lo90: kLo90, hi90: kHi90, lo50: kLo50, hi50: kHi50, yTicks: ticks2, top: 1084, bottom: 1328 },
  { id: 'L', name: 'Plastic Parts for Use in Machinery', small: true, title: 'RoW', val: lVal, med: lMed, lo90: lLo90, hi90: lHi90, lo50: lLo50, hi50: lHi50, yTicks: ticks2, top: 1086, bottom: 1330 },
]

function LegendBox() {
  return (
    <div style={{ position: 'relative', width: 61, height: 29, border: `1.5px solid ${INK}`, background: '#fff', fontFamily: SERIF, fontSize: 11.5, color: INK, lineHeight: '12px' }}>
      <svg width={32} height={29} style={{ position: 'absolute', left: 0, top: 0 }}>
        <line x1={3} y1={8} x2={30} y2={8} stroke={BLUE} strokeWidth={1} strokeDasharray="1.5 1.5" />
        <circle cx={16.5} cy={8} r={2.8} fill="none" stroke={BLUE} strokeWidth={1.3} />
        <rect x={3} y={17} width={27} height={10} fill={OUTER} />
      </svg>
      <span style={{ position: 'absolute', right: 3, top: 2 }}>Data</span>
      <span style={{ position: 'absolute', right: 6, top: 16 }}>90%</span>
    </div>
  )
}

function YLabel(props: any) {
  const vb = props.viewBox || { x: 0, y: 0, width: 0, height: 0 }
  const x = vb.x + 19
  const y = vb.y + vb.height / 2
  return (
    <text transform={`translate(${x},${y}) rotate(-90)`} textAnchor="middle" fontFamily={SERIF} fontSize={15} fill={INK}>
      {'normalized import, '}
      <tspan fontStyle="italic">m</tspan>
      <tspan fontStyle="italic" fontSize={10} dy={3}>O</tspan>
    </text>
  )
}

function ShockLabel(props: any) {
  const vb = props.viewBox || { x: 0, y: 0, width: 0, height: 0 }
  const x = vb.x - 2
  const y = vb.y + vb.height - 1
  return (
    <text transform={`translate(${x},${y}) rotate(-90)`} fontFamily={SANS} fontSize={9.5} fill="#FF2020">
      Shock
    </text>
  )
}

function Panel({ p, idx }: { p: any; idx: number }) {
  const col = idx % 3
  const row = Math.floor(idx / 3)
  const plotLeft = colLeft[col]
  const plotH = p.bottom - p.top
  const yMax = p.yTicks[p.yTicks.length - 1]
  const rows = months.map((i) => ({
    i,
    val: p.val[i],
    med: p.med[i],
    outer: [p.lo90[i], p.hi90[i]],
    inner: [p.lo50[i], p.hi50[i]],
  }))
  const chartW = Y_AXIS_W + PLOT_W + MR
  const chartH = MT + plotH + X_AXIS_H
  const legendLeft = p.legendRight ? Y_AXIS_W + PLOT_W - 5 - 64 : Y_AXIS_W + 7
  const capCx = plotLeft + PLOT_W / 2 - 7

  const renderDot = (d: any) => {
    const { cx, cy, index, payload } = d
    if (payload.val > yMax || cx == null || cy == null) return <g key={`d${index}`} />
    return (
      <g key={`d${index}`}>
        <circle cx={cx} cy={cy} r={3.1} fill="none" stroke={BLUE} strokeWidth={1.3} />
        <circle cx={cx} cy={cy} r={0.7} fill="#5a5aff" />
      </g>
    )
  }

  return (
    <>
      <div style={{ position: 'absolute', left: plotLeft, width: PLOT_W, top: p.top - 20, textAlign: 'center', fontFamily: SERIF, fontSize: 14.5, color: INK, lineHeight: '16px' }}>
        {p.title}
      </div>
      <div style={{ position: 'absolute', left: plotLeft - Y_AXIS_W, top: p.top - MT, fontFamily: SERIF }}>
        <ComposedChart width={chartW} height={chartH} data={rows} margin={{ top: MT, right: MR, bottom: 0, left: 0 }} style={{ fontFamily: SERIF }}>
          <XAxis
            type="number"
            dataKey="i"
            domain={[0, 36]}
            ticks={xTicks}
            interval={0}
            tickFormatter={(v: number) => xTickLabels[xTicks.indexOf(v)]}
            height={X_AXIS_H}
            tickSize={-4}
            tickMargin={13}
            axisLine={{ stroke: INK, strokeWidth: 1 }}
            tickLine={{ stroke: INK }}
            tick={{ fill: INK, fontFamily: SERIF, fontSize: 13 }}
          />
          <YAxis
            type="number"
            domain={[0, yMax]}
            ticks={p.yTicks}
            interval={0}
            allowDataOverflow
            width={Y_AXIS_W}
            tickSize={-4}
            tickMargin={9}
            axisLine={{ stroke: INK, strokeWidth: 1 }}
            tickLine={{ stroke: INK }}
            tick={{ fill: INK, fontFamily: SERIF, fontSize: 13 }}
            label={<YLabel />}
          />
          <Legend
            layout="horizontal"
            verticalAlign="middle"
            align="center"
            content={() => <LegendBox />}
            wrapperStyle={{ left: legendLeft, top: MT + 7, width: 64, height: 32 }}
          />
          <Area type="linear" dataKey="outer" stroke="none" fill={OUTER} fillOpacity={1} isAnimationActive={false} activeDot={false} />
          <Area type="linear" dataKey="inner" stroke="none" fill={INNER} fillOpacity={1} isAnimationActive={false} activeDot={false} />
          <ReferenceLine x={SHOCK} stroke="#FFB3B3" strokeWidth={2} label={(lp: any) => <ShockLabel {...lp} />} />
          <Line type="linear" dataKey="med" stroke={MED} strokeWidth={2} dot={false} activeDot={false} isAnimationActive={false} />
          <Line type="linear" dataKey="val" stroke={BLUE} strokeWidth={1} strokeDasharray="1.5 2" dot={renderDot} activeDot={false} isAnimationActive={false} />
        </ComposedChart>
      </div>
      <div style={{ position: 'absolute', left: capCx - 220, width: 440, top: capY[row] - 16, textAlign: 'center', fontFamily: SERIF, color: '#111', lineHeight: '32px', whiteSpace: 'nowrap' }}>
        <span style={{ fontSize: 26, letterSpacing: 1.1 }}>({p.id}) </span>
        <span style={{ fontSize: p.small ? 21.5 : 26, letterSpacing: p.small ? 0.7 : 1.1 }}>{p.name}</span>
      </div>
    </>
  )
}

export default function App() {
  return (
    <div style={{ position: 'absolute', left: 0, top: 0, width: 1233, height: 1412, background: '#fff', overflow: 'hidden', fontFamily: SERIF }}>
      {panels.map((p, idx) => (
        <Panel key={p.id} p={p} idx={idx} />
      ))}
    </div>
  )
}
